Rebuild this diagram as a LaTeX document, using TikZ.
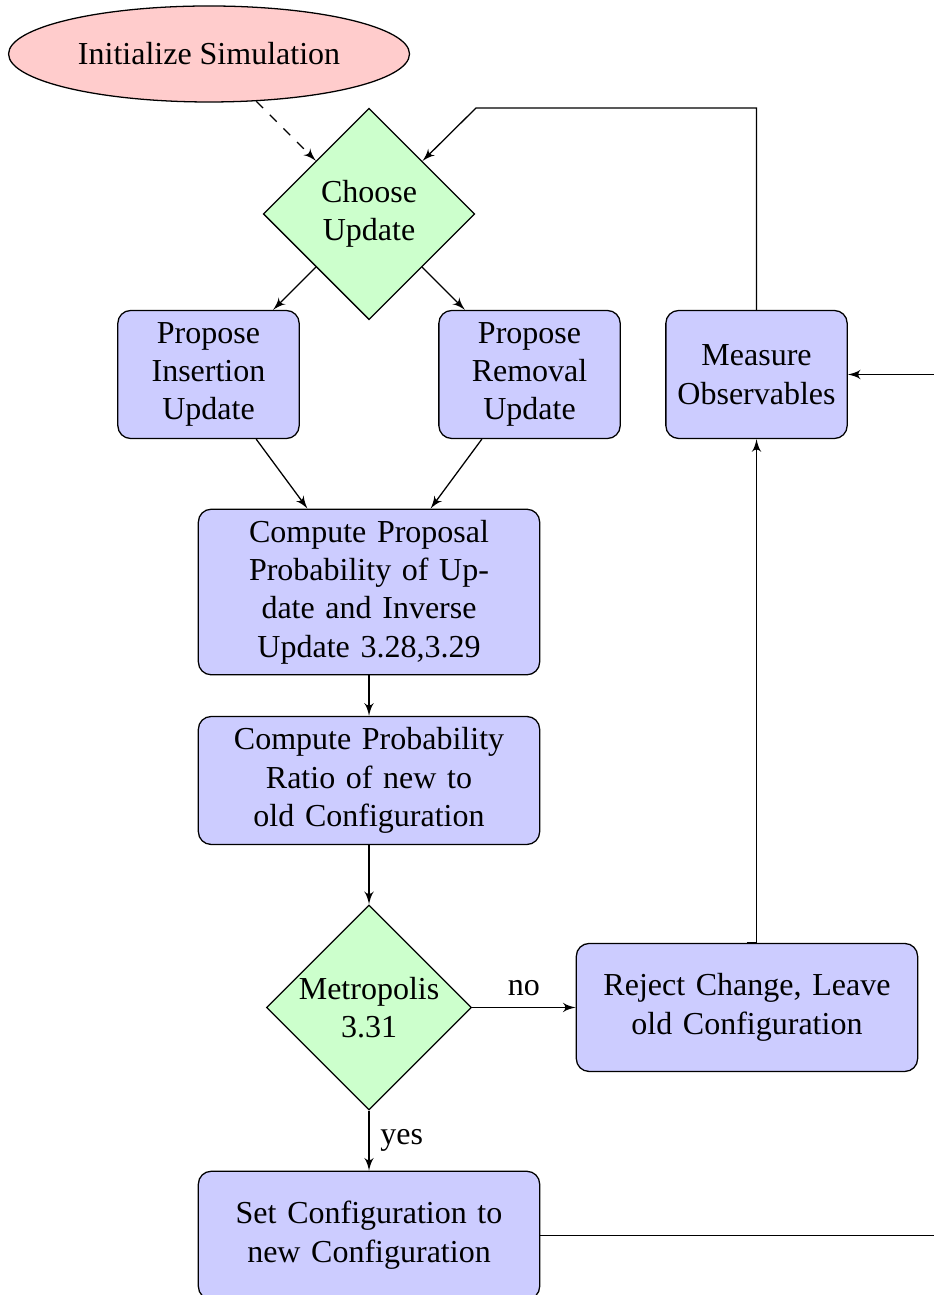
\documentclass[tikz,border=0pt]{standalone}
\usepackage{fontspec}
\setmainfont{Liberation Serif}
\usetikzlibrary{shapes.geometric,arrows}
\begin{document}
\begin{tikzpicture}[
  decision/.style={diamond,draw,fill=green!20,text width=4.5em,text badly centered,inner sep=0pt},
  block/.style={rectangle,draw,fill=blue!20,text width=5em,text centered,rounded corners,minimum height=4em},
  wideblock/.style={block,text width=10em},
  cloud/.style={draw,ellipse,fill=red!20,minimum height=3em},
  line/.style={draw,-latex'}]
\useasboundingbox (-4.053,-11.873) rectangle (6.205,2.350);
\node[cloud] (init) at (-1.757,1.757) {Initialize Simulation};
\node[decision] (choose) at (0,0) {Choose Update};
\node[block] (ins) at (-1.763,-1.763) {Propose Insertion Update};
\node[block] (rem) at (1.763,-1.763) {Propose Removal Update};
\node[block] (meas) at (4.256,-1.763) {Measure Observables};
\node[wideblock] (prop) at (0,-4.152) {Compute Proposal Probability of Update and Inverse Update 3.28,3.29};
\node[wideblock] (ratio) at (0,-6.222) {Compute Probability Ratio of new to old Configuration};
\node[decision] (metro) at (0,-8.715) {Metropolis 3.31};
\node[wideblock] (rej) at (4.151,-8.715) {Reject Change, Leave old Configuration};
\node[wideblock] (set) at (0,-11.217) {Set Configuration to new Configuration};
\coordinate (loop) at (1.175,1.164);
\coordinate (back) at (7,-11.217);
\path[line,dashed] (init) -- (choose);
\path[line] (choose) -- (ins);
\path[line] (choose) -- (rem);
\path[line] (ins) -- (prop);
\path[line] (rem) -- (prop);
\path[line] (prop) -- (ratio);
\path[line] (ratio) -- (metro);
\path[line] (metro) -- node[above] {no} (rej);
\path[line] (metro) -- node[right] {yes} (set);
\path[line] (rej.north) -| (meas.south);
\path[line] (meas) |- (loop) -- (choose);
\path[line] (set) -- (back) |- (meas);
\end{tikzpicture}
\end{document}
